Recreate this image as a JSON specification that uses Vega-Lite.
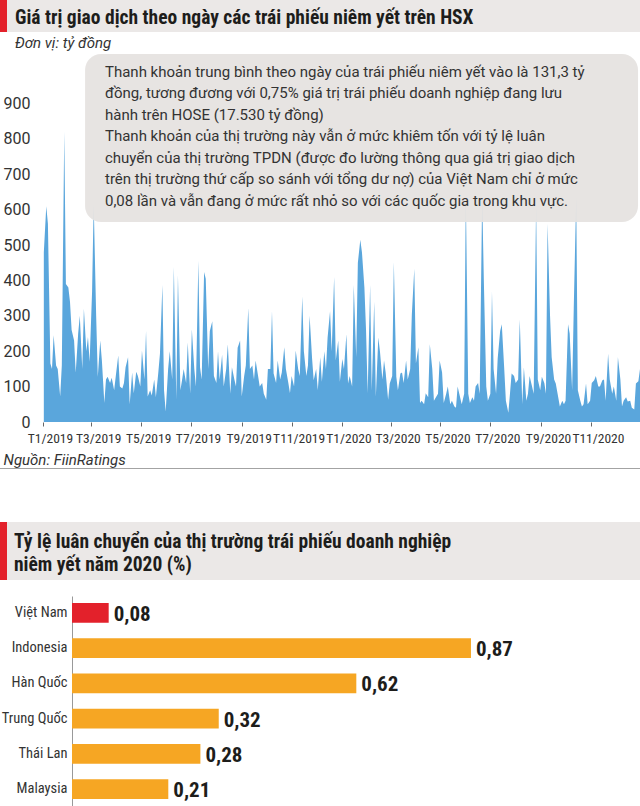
{
  "$schema": "https://vega.github.io/schema/vega-lite/v6.json",
  "padding": 0,
  "background": "white",
  "spacing": 53,
  "config": {
    "view": {"stroke": null},
    "font": "Roboto",
    "locale": {"number": {"decimal": ",", "thousands": ".", "grouping": [3], "currency": ["", " đ"]}}
  },
  "datasets": {
    "daily": [
      {"d":"2019-01-02","v":480},{"d":"2019-01-05","v":610},{"d":"2019-01-07","v":560},{"d":"2019-01-10","v":165},{"d":"2019-01-12","v":150},{"d":"2019-01-14","v":245},{"d":"2019-01-17","v":160},{"d":"2019-01-19","v":150},{"d":"2019-01-22","v":72},{"d":"2019-01-24","v":160},{"d":"2019-01-27","v":820},{"d":"2019-01-29","v":390},
      {"d":"2019-02-01","v":380},{"d":"2019-02-03","v":340},{"d":"2019-02-05","v":260},{"d":"2019-02-08","v":230},{"d":"2019-02-10","v":140},{"d":"2019-02-13","v":250},{"d":"2019-02-15","v":300},{"d":"2019-02-18","v":150},{"d":"2019-02-20","v":320},{"d":"2019-02-23","v":200},{"d":"2019-02-25","v":240},{"d":"2019-02-27","v":170},
      {"d":"2019-03-02","v":368},{"d":"2019-03-04","v":618},{"d":"2019-03-07","v":300},{"d":"2019-03-09","v":128},{"d":"2019-03-12","v":230},{"d":"2019-03-14","v":174},{"d":"2019-03-17","v":54},{"d":"2019-03-19","v":120},{"d":"2019-03-21","v":128},{"d":"2019-03-24","v":110},{"d":"2019-03-26","v":125},{"d":"2019-03-29","v":90},{"d":"2019-03-31","v":130},
      {"d":"2019-04-03","v":188},{"d":"2019-04-05","v":100},{"d":"2019-04-08","v":95},{"d":"2019-04-10","v":110},{"d":"2019-04-12","v":155},{"d":"2019-04-15","v":183},{"d":"2019-04-17","v":50},{"d":"2019-04-20","v":140},{"d":"2019-04-22","v":81},{"d":"2019-04-25","v":142},{"d":"2019-04-27","v":130},{"d":"2019-04-30","v":100},
      {"d":"2019-05-02","v":202},{"d":"2019-05-05","v":120},{"d":"2019-05-07","v":257},{"d":"2019-05-09","v":72},{"d":"2019-05-12","v":90},{"d":"2019-05-14","v":75},{"d":"2019-05-17","v":120},{"d":"2019-05-19","v":70},{"d":"2019-05-22","v":140},{"d":"2019-05-24","v":193},{"d":"2019-05-27","v":387},{"d":"2019-05-29","v":90},{"d":"2019-05-31","v":30},
      {"d":"2019-06-03","v":150},{"d":"2019-06-05","v":200},{"d":"2019-06-08","v":120},{"d":"2019-06-10","v":438},{"d":"2019-06-13","v":63},{"d":"2019-06-15","v":415},{"d":"2019-06-18","v":90},{"d":"2019-06-20","v":118},{"d":"2019-06-22","v":150},{"d":"2019-06-25","v":110},{"d":"2019-06-27","v":225},{"d":"2019-06-30","v":80},
      {"d":"2019-07-02","v":262},{"d":"2019-07-05","v":150},{"d":"2019-07-07","v":100},{"d":"2019-07-10","v":456},{"d":"2019-07-12","v":155},{"d":"2019-07-14","v":120},{"d":"2019-07-17","v":424},{"d":"2019-07-19","v":405},{"d":"2019-07-22","v":150},{"d":"2019-07-24","v":257},{"d":"2019-07-27","v":285},{"d":"2019-07-29","v":130},
      {"d":"2019-08-01","v":110},{"d":"2019-08-03","v":200},{"d":"2019-08-05","v":120},{"d":"2019-08-08","v":190},{"d":"2019-08-10","v":100},{"d":"2019-08-13","v":150},{"d":"2019-08-15","v":220},{"d":"2019-08-18","v":80},{"d":"2019-08-20","v":155},{"d":"2019-08-23","v":120},{"d":"2019-08-25","v":100},{"d":"2019-08-27","v":210},{"d":"2019-08-30","v":230},
      {"d":"2019-09-01","v":72},{"d":"2019-09-04","v":130},{"d":"2019-09-06","v":160},{"d":"2019-09-09","v":322},{"d":"2019-09-11","v":150},{"d":"2019-09-14","v":160},{"d":"2019-09-16","v":120},{"d":"2019-09-18","v":174},{"d":"2019-09-21","v":130},{"d":"2019-09-23","v":100},{"d":"2019-09-26","v":110},{"d":"2019-09-28","v":80},
      {"d":"2019-10-01","v":63},{"d":"2019-10-03","v":150},{"d":"2019-10-06","v":150},{"d":"2019-10-08","v":313},{"d":"2019-10-10","v":137},{"d":"2019-10-13","v":110},{"d":"2019-10-15","v":174},{"d":"2019-10-18","v":120},{"d":"2019-10-20","v":140},{"d":"2019-10-23","v":211},{"d":"2019-10-25","v":150},{"d":"2019-10-28","v":110},{"d":"2019-10-30","v":81},
      {"d":"2019-11-01","v":130},{"d":"2019-11-04","v":100},{"d":"2019-11-06","v":202},{"d":"2019-11-09","v":150},{"d":"2019-11-11","v":130},{"d":"2019-11-14","v":355},{"d":"2019-11-16","v":200},{"d":"2019-11-19","v":130},{"d":"2019-11-21","v":160},{"d":"2019-11-23","v":300},{"d":"2019-11-26","v":180},{"d":"2019-11-28","v":118},
      {"d":"2019-12-01","v":150},{"d":"2019-12-03","v":90},{"d":"2019-12-06","v":183},{"d":"2019-12-08","v":114},{"d":"2019-12-11","v":200},{"d":"2019-12-13","v":150},{"d":"2019-12-15","v":239},{"d":"2019-12-18","v":313},{"d":"2019-12-20","v":200},{"d":"2019-12-23","v":410},{"d":"2019-12-25","v":174},{"d":"2019-12-28","v":230},{"d":"2019-12-30","v":114},
      {"d":"2020-01-02","v":178},{"d":"2020-01-04","v":150},{"d":"2020-01-07","v":248},{"d":"2020-01-09","v":109},{"d":"2020-01-11","v":130},{"d":"2020-01-14","v":100},{"d":"2020-01-16","v":387},{"d":"2020-01-19","v":183},{"d":"2020-01-21","v":450},{"d":"2020-01-24","v":515},{"d":"2020-01-26","v":480},{"d":"2020-01-29","v":380},{"d":"2020-01-31","v":260},
      {"d":"2020-02-02","v":81},{"d":"2020-02-05","v":387},{"d":"2020-02-07","v":90},{"d":"2020-02-10","v":340},{"d":"2020-02-12","v":72},{"d":"2020-02-15","v":239},{"d":"2020-02-17","v":200},{"d":"2020-02-20","v":120},{"d":"2020-02-22","v":174},{"d":"2020-02-24","v":140},{"d":"2020-02-27","v":63},{"d":"2020-02-29","v":109},
      {"d":"2020-03-03","v":130},{"d":"2020-03-05","v":452},{"d":"2020-03-08","v":128},{"d":"2020-03-10","v":90},{"d":"2020-03-13","v":137},{"d":"2020-03-15","v":140},{"d":"2020-03-17","v":110},{"d":"2020-03-20","v":174},{"d":"2020-03-22","v":120},{"d":"2020-03-25","v":150},{"d":"2020-03-27","v":304},{"d":"2020-03-30","v":433},
      {"d":"2020-04-01","v":165},{"d":"2020-04-04","v":211},{"d":"2020-04-06","v":54},{"d":"2020-04-08","v":60},{"d":"2020-04-11","v":50},{"d":"2020-04-13","v":81},{"d":"2020-04-16","v":70},{"d":"2020-04-18","v":220},{"d":"2020-04-21","v":150},{"d":"2020-04-23","v":60},{"d":"2020-04-26","v":72},{"d":"2020-04-28","v":80},{"d":"2020-04-30","v":174},
      {"d":"2020-05-03","v":140},{"d":"2020-05-05","v":54},{"d":"2020-05-08","v":80},{"d":"2020-05-10","v":100},{"d":"2020-05-13","v":50},{"d":"2020-05-15","v":60},{"d":"2020-05-18","v":44},{"d":"2020-05-20","v":40},{"d":"2020-05-22","v":100},{"d":"2020-05-25","v":70},{"d":"2020-05-27","v":50},{"d":"2020-05-30","v":80},
      {"d":"2020-06-01","v":650},{"d":"2020-06-04","v":80},{"d":"2020-06-06","v":54},{"d":"2020-06-09","v":70},{"d":"2020-06-11","v":60},{"d":"2020-06-13","v":100},{"d":"2020-06-16","v":110},{"d":"2020-06-18","v":80},{"d":"2020-06-21","v":640},{"d":"2020-06-23","v":405},{"d":"2020-06-26","v":100},{"d":"2020-06-28","v":60},
      {"d":"2020-07-01","v":80},{"d":"2020-07-03","v":368},{"d":"2020-07-05","v":150},{"d":"2020-07-08","v":80},{"d":"2020-07-10","v":180},{"d":"2020-07-13","v":257},{"d":"2020-07-15","v":276},{"d":"2020-07-18","v":150},{"d":"2020-07-20","v":60},{"d":"2020-07-23","v":26},{"d":"2020-07-25","v":80},{"d":"2020-07-27","v":137},{"d":"2020-07-30","v":130},
      {"d":"2020-08-01","v":110},{"d":"2020-08-04","v":120},{"d":"2020-08-06","v":290},{"d":"2020-08-09","v":50},{"d":"2020-08-11","v":155},{"d":"2020-08-14","v":60},{"d":"2020-08-16","v":80},{"d":"2020-08-18","v":130},{"d":"2020-08-21","v":100},{"d":"2020-08-23","v":80},{"d":"2020-08-26","v":620},{"d":"2020-08-28","v":120},{"d":"2020-08-31","v":90},
      {"d":"2020-09-02","v":128},{"d":"2020-09-05","v":110},{"d":"2020-09-07","v":80},{"d":"2020-09-09","v":560},{"d":"2020-09-12","v":300},{"d":"2020-09-14","v":183},{"d":"2020-09-17","v":120},{"d":"2020-09-19","v":109},{"d":"2020-09-22","v":70},{"d":"2020-09-24","v":44},{"d":"2020-09-27","v":60},{"d":"2020-09-29","v":50},
      {"d":"2020-10-01","v":60},{"d":"2020-10-04","v":276},{"d":"2020-10-06","v":250},{"d":"2020-10-09","v":90},{"d":"2020-10-11","v":322},{"d":"2020-10-14","v":640},{"d":"2020-10-16","v":90},{"d":"2020-10-19","v":60},{"d":"2020-10-21","v":44},{"d":"2020-10-23","v":50},{"d":"2020-10-26","v":109},{"d":"2020-10-28","v":50},{"d":"2020-10-31","v":60},
      {"d":"2020-11-02","v":110},{"d":"2020-11-05","v":118},{"d":"2020-11-07","v":130},{"d":"2020-11-10","v":100},{"d":"2020-11-12","v":100},{"d":"2020-11-15","v":118},{"d":"2020-11-17","v":120},{"d":"2020-11-19","v":60},{"d":"2020-11-22","v":193},{"d":"2020-11-24","v":120},{"d":"2020-11-27","v":80},{"d":"2020-11-29","v":100},
      {"d":"2020-12-02","v":60},{"d":"2020-12-04","v":183},{"d":"2020-12-07","v":120},{"d":"2020-12-09","v":44},{"d":"2020-12-11","v":60},{"d":"2020-12-14","v":70},{"d":"2020-12-16","v":58},{"d":"2020-12-19","v":60},{"d":"2020-12-21","v":40},{"d":"2020-12-24","v":35},{"d":"2020-12-26","v":109},{"d":"2020-12-29","v":115},{"d":"2020-12-31","v":150}
    ],
    "turnover": [
      {"country": "Việt Nam", "value": 0.08},
      {"country": "Indonesia", "value": 0.87},
      {"country": "Hàn Quốc", "value": 0.62},
      {"country": "Trung Quốc", "value": 0.32},
      {"country": "Thái Lan", "value": 0.28},
      {"country": "Malaysia", "value": 0.21}
    ]
  },
  "vconcat": [
    {
      "spacing": 4,
      "vconcat": [
        {
          "spacing": 0,
          "hconcat": [
            {"data": {"values": [{}]}, "width": 7, "height": 32, "mark": {"type": "rect", "color": "#e3212b"}},
            {
              "data": {"values": [{}]}, "width": 633, "height": 32,
              "mark": {"type": "rect", "color": "#ebe8e7"},
              "title": {"text": "Giá trị giao dịch theo ngày các trái phiếu niêm yết trên HSX", "anchor": "start", "frame": "group", "offset": -28, "dx": 8, "font": "'Roboto Condensed', 'DejaVu Sans Condensed', Roboto", "fontSize": 19.5, "fontWeight": "bold", "color": "#1d1d1b"}
            }
          ]
        },
        {
          "spacing": 0,
          "vconcat": [
            {
              "width": 640, "height": 368,
              "title": {"text": "Đơn vị: tỷ đồng", "anchor": "start", "frame": "group", "fontStyle": "italic", "fontWeight": "normal", "fontSize": 15, "font": "Roboto", "color": "#333333", "offset": 3, "dx": 15},
              "layer": [
                {
                  "data": {"name": "daily"},
                  "mark": {"type": "area", "color": "#5aa6dc", "interpolate": "linear"},
                  "encoding": {
                    "x": {
                      "field": "d", "type": "temporal",
                      "scale": {"type": "utc", "domain": [{"year": 2018, "month": 11, "date": 9, "hours": 10, "utc": true}, {"year": 2020, "month": 12, "date": 31, "utc": true}]},
                      "axis": {
                        "title": "Nguồn: FiinRatings", "titleAnchor": "start", "titleX": 3, "titleFontStyle": "italic", "titleFontWeight": "normal", "titleFont": "Roboto", "titleFontSize": 15, "titleColor": "#333333", "titlePadding": 8,
                        "values": [
                          {"year": 2019, "month": 1, "date": 1, "utc": true}, {"year": 2019, "month": 3, "date": 1, "utc": true}, {"year": 2019, "month": 5, "date": 1, "utc": true}, {"year": 2019, "month": 7, "date": 1, "utc": true}, {"year": 2019, "month": 9, "date": 1, "utc": true}, {"year": 2019, "month": 11, "date": 1, "utc": true},
                          {"year": 2020, "month": 1, "date": 1, "utc": true}, {"year": 2020, "month": 3, "date": 1, "utc": true}, {"year": 2020, "month": 5, "date": 1, "utc": true}, {"year": 2020, "month": 7, "date": 1, "utc": true}, {"year": 2020, "month": 9, "date": 1, "utc": true}, {"year": 2020, "month": 11, "date": 1, "utc": true}
                        ],
                        "labelExpr": "'T' + (utcmonth(datum.value) + 1) + '/' + utcyear(datum.value)",
                        "labelFont": "'Roboto Condensed', 'DejaVu Sans Condensed', Roboto", "labelFontSize": 13.5, "labelColor": "#333333", "labelPadding": 5, "labelOffset": 7, "labelFlush": false, "labelOverlap": false,
                        "tickSize": 4, "tickColor": "#666666", "domain": false, "grid": false
                      }
                    },
                    "y": {
                      "field": "v", "type": "quantitative",
                      "scale": {"domain": [0, 1040], "nice": false},
                      "axis": {"title": null, "offset": -43, "values": [0, 100, 200, 300, 400, 500, 600, 700, 800, 900], "domain": false, "ticks": false, "grid": false, "labelFont": "Roboto", "labelFontSize": 16, "labelColor": "#333333", "labelPadding": 13}
                    }
                  }
                },
                {
                  "data": {"values": [{}]},
                  "mark": {"type": "rect", "fill": "#e5e2e0", "fillOpacity": 0.93, "cornerRadius": 16},
                  "encoding": {
                    "x": {"datum": {"year": 2019, "month": 2, "date": 21, "hours": 10, "utc": true}, "type": "temporal"},
                    "x2": {"datum": {"year": 2020, "month": 12, "date": 28, "hours": 14, "utc": true}},
                    "y": {"datum": 1040, "type": "quantitative"},
                    "y2": {"datum": 565}
                  }
                },
                {
                  "data": {"values": [{}]},
                  "mark": {"type": "text", "align": "left", "baseline": "top", "font": "Roboto", "fontSize": 15, "lineHeight": 21.5, "color": "#333333"},
                  "encoding": {
                    "x": {"datum": {"year": 2019, "month": 3, "date": 17, "hours": 19, "utc": true}, "type": "temporal"},
                    "y": {"datum": 1010, "type": "quantitative"},
                    "text": {"value": ["Thanh khoản trung bình theo ngày của trái phiếu niêm yết vào là 131,3 tỷ", "đồng, tương đương với 0,75% giá trị trái phiếu doanh nghiệp đang lưu", "hành trên HOSE (17.530 tỷ đồng)"]}
                  }
                },
                {
                  "data": {"values": [{}]},
                  "mark": {"type": "text", "align": "left", "baseline": "top", "font": "Roboto", "fontSize": 15, "lineHeight": 21.5, "color": "#333333"},
                  "encoding": {
                    "x": {"datum": {"year": 2019, "month": 3, "date": 17, "hours": 19, "utc": true}, "type": "temporal"},
                    "y": {"datum": 828, "type": "quantitative"},
                    "text": {"value": ["Thanh khoản của thị trường này vẫn ở mức khiêm tốn với tỷ lệ luân", "chuyển của thị trường TPDN (được đo lường thông qua giá trị giao dịch", "trên thị trường thứ cấp so sánh với tổng dư nợ) của Việt Nam chỉ ở mức", "0,08 lần và vẫn đang ở mức rất nhỏ so với các quốc gia trong khu vực."]}
                  }
                }
              ]
            },
            {"data": {"values": [{}]}, "width": 640, "height": 1, "mark": {"type": "rect", "color": "#a3a3a3"}}
          ]
        }
      ]
    },
    {
      "spacing": 16,
      "vconcat": [
        {
          "spacing": 0,
          "hconcat": [
            {"data": {"values": [{}]}, "width": 7, "height": 58, "mark": {"type": "rect", "color": "#e3212b"}},
            {
              "data": {"values": [{}]}, "width": 633, "height": 58,
              "mark": {"type": "rect", "color": "#ebe8e7"},
              "title": {"text": ["Tỷ lệ luân chuyển của thị trường trái phiếu doanh nghiệp", "niêm yết năm 2020 (%)"], "anchor": "start", "frame": "group", "offset": -53, "dx": 7, "lineHeight": 23, "font": "'Roboto Condensed', 'DejaVu Sans Condensed', Roboto", "fontSize": 19.5, "fontWeight": "bold", "color": "#1d1d1b"}
            }
          ]
        },
        {
          "data": {"name": "turnover"},
          "width": 640, "height": 210,
          "encoding": {
            "y": {"field": "country", "type": "nominal", "sort": null, "scale": {"paddingInner": 0.44, "paddingOuter": 0.2},
                  "axis": {"title": null, "offset": -72, "ticks": false, "domainColor": "#999999", "labelFont": "'Roboto Condensed', 'DejaVu Sans Condensed', Roboto", "labelFontSize": 14.5, "labelColor": "#333333", "labelPadding": 5}},
            "x": {"field": "value", "type": "quantitative", "scale": {"domain": [-0.157, 1.2386], "nice": false, "zero": false}, "axis": null}
          },
          "layer": [
            {"mark": {"type": "bar"}, "encoding": {"color": {"condition": {"test": "datum.country === 'Việt Nam'", "value": "#e3212b"}, "value": "#f6a623"}}},
            {"mark": {"type": "text", "align": "left", "baseline": "middle", "dx": 5, "dy": 2, "font": "'Roboto Condensed', 'DejaVu Sans Condensed', Roboto", "fontWeight": "bold", "fontSize": 21, "color": "#1d1d1b"},
             "encoding": {"text": {"field": "value", "type": "quantitative", "format": ".2f"}}}
          ]
        }
      ]
    }
  ]
}
